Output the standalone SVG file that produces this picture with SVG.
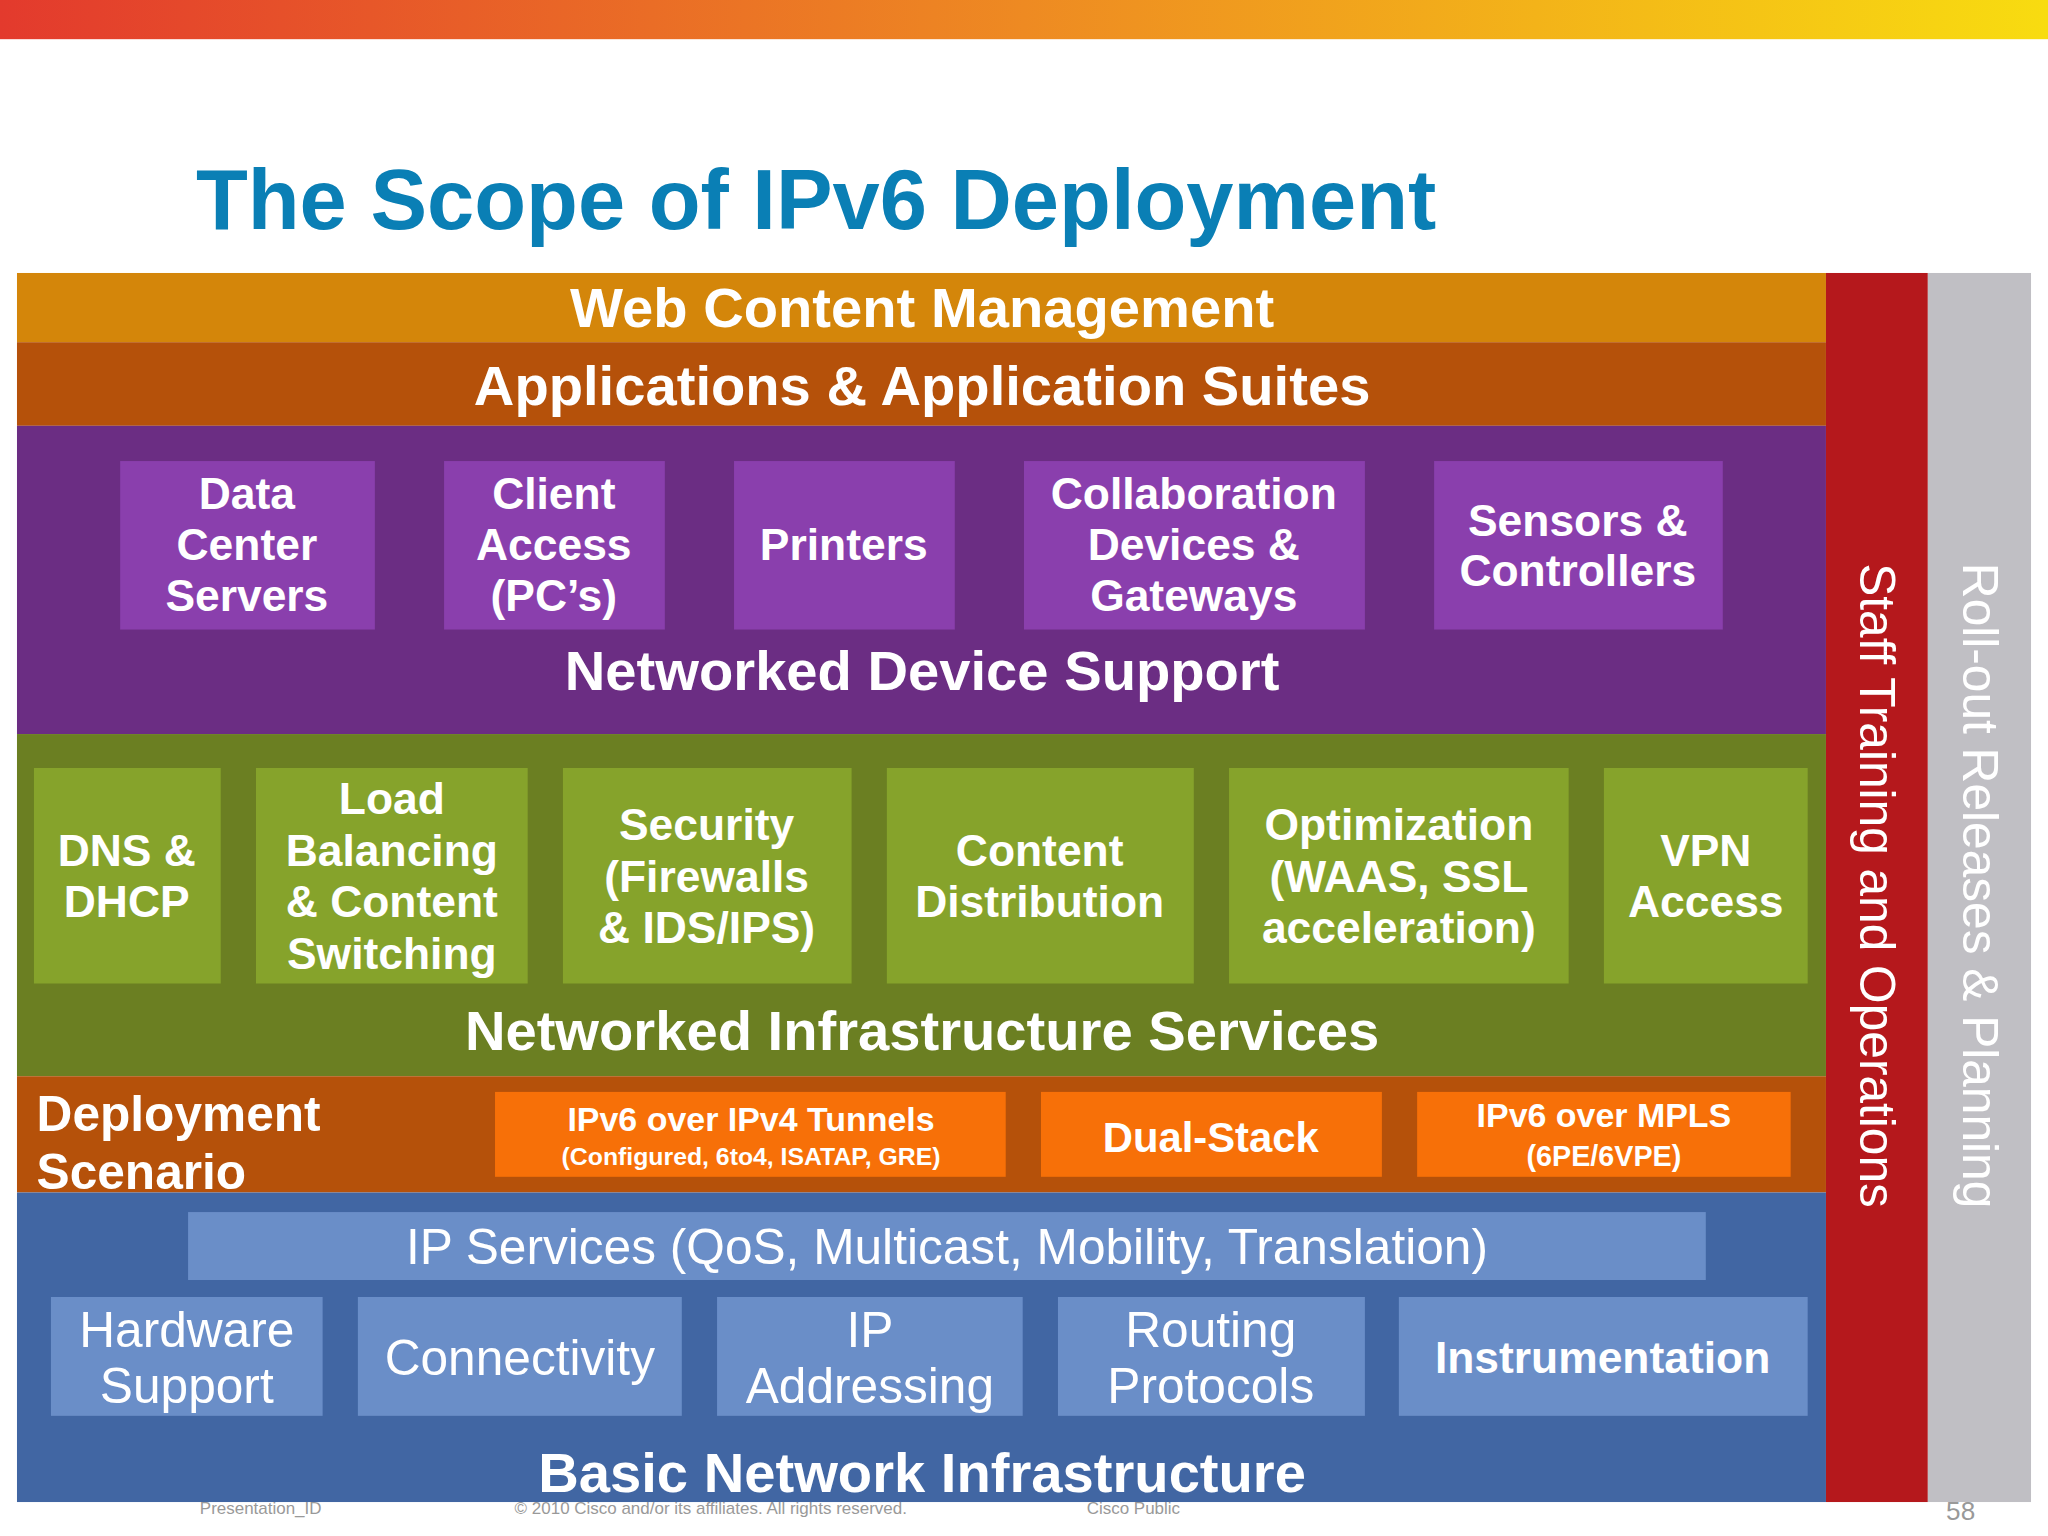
<svg xmlns="http://www.w3.org/2000/svg" width="2048" height="1536" viewBox="0 0 2048 1536">
<defs>
<linearGradient id="tg" x1="0" x2="1" y1="0" y2="0"><stop offset="0" stop-color="#e33a2d"/><stop offset="0.5" stop-color="#ee8a22"/><stop offset="1" stop-color="#f8dc10"/></linearGradient>
<style>
text{font-family:"Liberation Sans",Arial,sans-serif;fill:#fff;text-anchor:middle}
.h{font-size:43px;font-weight:bold}
.n{font-size:34px;font-weight:bold}
.r{font-size:38px}
.f{font-size:13px;fill:#999;text-anchor:start}
</style>
</defs>
<rect width="2048" height="1536" fill="#fff"/>
<g transform="scale(1.30612)">
<rect x="0" y="0" width="1568" height="30" fill="url(#tg)"/>
<text x="150" y="175" style="font-size:65px;font-weight:bold;fill:#0a7fb5;text-anchor:start">The Scope of IPv6 Deployment</text>

<g id="web"><rect x="13" y="209" width="1385" height="53" fill="#d4860a"/><text x="706" y="250" class="h">Web Content Management</text></g>
<g id="apps"><rect x="13" y="262" width="1385" height="64" fill="#b5510a"/><text x="706" y="310" class="h">Applications &amp; Application Suites</text></g>

<g id="device"><rect x="13" y="326" width="1385" height="236" fill="#6b2d83"/><text x="706" y="528" class="h">Networked Device Support</text></g>
<g id="dcs"><rect x="92" y="353" width="195" height="129" fill="#8a3fad"/><text x="189" y="390" class="n">Data</text><text x="189" y="429" class="n">Center</text><text x="189" y="468" class="n">Servers</text></g>
<g id="client"><rect x="340" y="353" width="169" height="129" fill="#8a3fad"/><text x="424" y="390" class="n">Client</text><text x="424" y="429" class="n">Access</text><text x="424" y="468" class="n">(PC’s)</text></g>
<g id="printers"><rect x="562" y="353" width="169" height="129" fill="#8a3fad"/><text x="646" y="429" class="n">Printers</text></g>
<g id="collab"><rect x="784" y="353" width="261" height="129" fill="#8a3fad"/><text x="914" y="390" class="n">Collaboration</text><text x="914" y="429" class="n">Devices &amp;</text><text x="914" y="468" class="n">Gateways</text></g>
<g id="sensors"><rect x="1098" y="353" width="221" height="129" fill="#8a3fad"/><text x="1208" y="410" class="n">Sensors &amp;</text><text x="1208" y="449" class="n">Controllers</text></g>

<g id="infra"><rect x="13" y="562" width="1385" height="262" fill="#6b7f22"/><text x="706" y="804" class="h">Networked Infrastructure Services</text></g>
<g id="dns"><rect x="26" y="588" width="143" height="165" fill="#86a32b"/><text x="97" y="663" class="n">DNS &amp;</text><text x="97" y="702" class="n">DHCP</text></g>
<g id="lb"><rect x="196" y="588" width="208" height="165" fill="#86a32b"/><text x="300" y="623" class="n">Load</text><text x="300" y="663" class="n">Balancing</text><text x="300" y="702" class="n">&amp; Content</text><text x="300" y="742" class="n">Switching</text></g>
<g id="sec"><rect x="431" y="588" width="221" height="165" fill="#86a32b"/><text x="541" y="643" class="n">Security</text><text x="541" y="683" class="n">(Firewalls</text><text x="541" y="722" class="n">&amp; IDS/IPS)</text></g>
<g id="cd"><rect x="679" y="588" width="235" height="165" fill="#86a32b"/><text x="796" y="663" class="n">Content</text><text x="796" y="702" class="n">Distribution</text></g>
<g id="opt"><rect x="941" y="588" width="260" height="165" fill="#86a32b"/><text x="1071" y="643" class="n">Optimization</text><text x="1071" y="683" class="n">(WAAS, SSL</text><text x="1071" y="722" class="n">acceleration)</text></g>
<g id="vpn"><rect x="1228" y="588" width="156" height="165" fill="#86a32b"/><text x="1306" y="663" class="n">VPN</text><text x="1306" y="702" class="n">Access</text></g>

<g id="deploy"><rect x="13" y="824" width="1385" height="89" fill="#b5510a"/><text x="28" y="866" style="font-size:38px;font-weight:bold;text-anchor:start">Deployment</text><text x="28" y="910" style="font-size:38px;font-weight:bold;text-anchor:start">Scenario</text></g>
<g id="tun"><rect x="379" y="836" width="391" height="65" fill="#f77008"/><text x="575" y="866" style="font-size:26px;font-weight:bold">IPv6 over IPv4 Tunnels</text><text x="575" y="892" style="font-size:19px;font-weight:bold">(Configured, 6to4, ISATAP, GRE)</text></g>
<g id="dual"><rect x="797" y="836" width="261" height="65" fill="#f77008"/><text x="927" y="882" style="font-size:32px;font-weight:bold">Dual-Stack</text></g>
<g id="mpls"><rect x="1085" y="836" width="286" height="65" fill="#f77008"/><text x="1228" y="863" style="font-size:26px;font-weight:bold">IPv6 over MPLS</text><text x="1228" y="893" style="font-size:22px;font-weight:bold">(6PE/6VPE)</text></g>

<g id="basic"><rect x="13" y="913" width="1385" height="237" fill="#4166a3"/><text x="706" y="1142" class="h">Basic Network Infrastructure</text></g>
<g id="ips"><rect x="144" y="928" width="1162" height="52" fill="#6a8ec8"/><text x="725" y="968" class="r">IP Services (QoS, Multicast, Mobility, Translation)</text></g>
<g id="hw"><rect x="39" y="993" width="208" height="91" fill="#6a8ec8"/><text x="143" y="1031" class="r">Hardware</text><text x="143" y="1074" class="r">Support</text></g>
<g id="conn"><rect x="274" y="993" width="248" height="91" fill="#6a8ec8"/><text x="398" y="1053" class="r">Connectivity</text></g>
<g id="ipa"><rect x="549" y="993" width="234" height="91" fill="#6a8ec8"/><text x="666" y="1031" class="r">IP</text><text x="666" y="1074" class="r">Addressing</text></g>
<g id="rp"><rect x="810" y="993" width="235" height="91" fill="#6a8ec8"/><text x="927" y="1031" class="r">Routing</text><text x="927" y="1074" class="r">Protocols</text></g>
<g id="instr"><rect x="1071" y="993" width="313" height="91" fill="#6a8ec8"/><text x="1227" y="1051" class="n">Instrumentation</text></g>

<g id="staff"><rect x="1398" y="209" width="78" height="941" fill="#b5181c"/><text transform="translate(1424,678) rotate(90)" style="font-size:38px">Staff Training and Operations</text></g>
<g id="roll"><rect x="1476" y="209" width="79" height="941" fill="#c0bfc4"/><text transform="translate(1503,678) rotate(90)" style="font-size:38px">Roll-out Releases &amp; Planning</text></g>

<g id="connectors"/>
<text x="153" y="1159" class="f">Presentation_ID</text>
<text x="394" y="1159" class="f">© 2010 Cisco and/or its affiliates. All rights reserved.</text>
<text x="832" y="1159" class="f">Cisco Public</text>
<text x="1490" y="1164" class="f" style="font-size:20px">58</text>
</g>
</svg>
